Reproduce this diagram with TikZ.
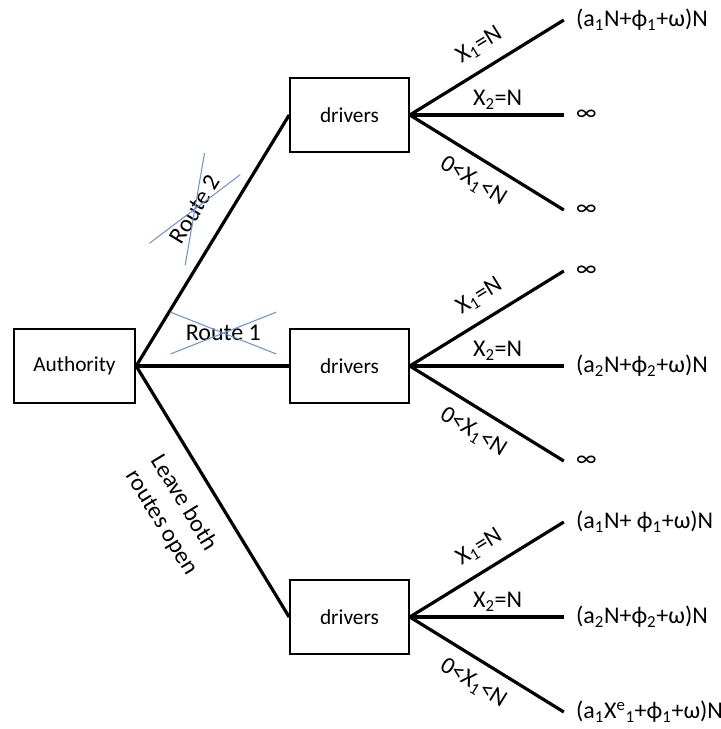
\documentclass[tikz,border=0pt]{standalone}
\usepackage{fontspec}
\setmainfont{Carlito}
\usetikzlibrary{positioning}
\definecolor{strike}{RGB}{110,150,205}

\begin{document}
\begin{tikzpicture}[x=0.75pt, y=-0.75pt,
  box/.style={draw, line width=1.5pt, minimum width=89pt, minimum height=56pt,
    font=\fontsize{16}{19}\selectfont},
  branch/.style={line width=2.4pt},
  lbl/.style={font=\fontsize{18}{22}\selectfont, inner sep=0pt},
  crossed/.style={lbl, minimum width=77pt, minimum height=29pt}]
  \useasboundingbox (0,0) rectangle (721,729);

  % boxes
  \node[box, minimum width=91pt] (auth) at (74.5,366) {Authority};
  \node[box] (drv1) at (349.5,115) {drivers};
  \node[box] (drv2) at (349.5,366) {drivers};
  \node[box] (drv3) at (349.5,617) {drivers};

  % routes of the authority
  \draw[branch] (auth.east) -- (drv1.west)
    node[crossed, sloped, pos=0.56, above=8pt] (rt2) {Route 2};
  \draw[branch] (auth.east) -- (drv2.west)
    node[crossed, pos=0.57, above=9pt] (rt1) {Route 1};
  \draw[branch] (auth.east) -- (drv3.west)
    node[lbl, sloped, pos=0.5, below=14pt, align=left] (open) {Leave both\\routes open};
  \draw[strike, line width=0.8pt] (rt2.north west) -- (rt2.south east)
    (rt2.south west) -- (rt2.north east);
  \draw[strike, line width=0.8pt] (rt1.north west) -- (rt1.south east)
    (rt1.south west) -- (rt1.north east);

  % choices of the drivers
  \foreach \d in {drv1,drv2,drv3} {
    \draw[branch] (\d.east) -- node[lbl, sloped, pos=0.53, above=9pt] (\d-x1) {X\textsubscript{1}=N}
      ++(154,-95) coordinate (\d-a);
    \draw[branch] (\d.east) -- node[lbl, pos=0.57, above=3pt] (\d-x2) {X\textsubscript{2}=N}
      ++(154,0) coordinate (\d-b);
    \draw[branch] (\d.east) -- node[lbl, sloped, pos=0.49, below=9pt] (\d-x3) {0<X\textsubscript{1}<N}
      ++(154,95) coordinate (\d-c);
  }

  % pay-offs
  \node[lbl, right=9pt of drv1-a] (p1a) {(a\textsubscript{1}N+ϕ\textsubscript{1}+ω)N};
  \node[lbl, right=9pt of drv1-b] (p1b) {∞};
  \node[lbl, right=9pt of drv1-c] (p1c) {∞};
  \node[lbl, right=9pt of drv2-a] (p2a) {∞};
  \node[lbl, right=9pt of drv2-b] (p2b) {(a\textsubscript{2}N+ϕ\textsubscript{2}+ω)N};
  \node[lbl, right=9pt of drv2-c] (p2c) {∞};
  \node[lbl, right=9pt of drv3-a] (p3a) {(a\textsubscript{1}N+ ϕ\textsubscript{1}+ω)N};
  \node[lbl, right=9pt of drv3-b] (p3b) {(a\textsubscript{2}N+ϕ\textsubscript{2}+ω)N};
  \node[lbl, right=9pt of drv3-c] (p3c) {(a\textsubscript{1}X\textsuperscript{e}\textsubscript{1}+ϕ\textsubscript{1}+ω)N};
\end{tikzpicture}
\end{document}
